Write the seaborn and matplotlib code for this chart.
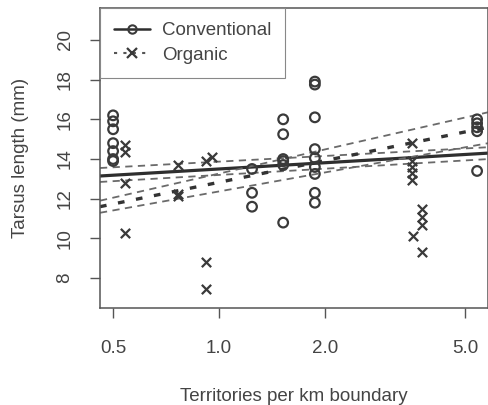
import numpy as np
import pandas as pd
import seaborn as sns
import matplotlib.pyplot as plt
from matplotlib.lines import Line2D

sns.set_style("white")
plt.rcParams['font.family'] = ['Liberation Sans', 'DejaVu Sans']

# Conventional (open circles)
conv_x = [0.5, 0.5, 0.5, 0.5, 0.5, 0.5, 0.5,
          1.24, 1.24, 1.24,
          1.52, 1.52, 1.52, 1.52, 1.52, 1.52,
          1.87, 1.87, 1.87, 1.87, 1.87, 1.87, 1.87, 1.87, 1.87,
          5.4, 5.4, 5.4, 5.4, 5.4]
conv_y = [16.2, 15.9, 15.5, 14.8, 14.4, 14.0, 13.9,
          13.5, 12.3, 11.6,
          16.0, 15.25, 14.0, 13.9, 13.7, 10.8,
          17.9, 17.75, 16.1, 14.5, 14.05, 13.6, 13.25, 12.3, 11.8,
          16.0, 15.8, 15.6, 15.4, 13.4]

# Organic (crosses)
org_x = [0.54, 0.54, 0.54, 0.54,
         0.765, 0.765, 0.765,
         0.92, 0.92, 0.92, 0.955,
         3.53, 3.53, 3.53, 3.53, 3.53,
         3.77, 3.77, 3.77, 3.77, 3.56]
org_y = [14.7, 14.35, 12.8, 10.3,
         13.7, 12.25, 12.15,
         13.9, 8.8, 7.45, 14.1,
         14.8, 13.9, 13.6, 13.3, 12.95,
         11.5, 11.1, 10.7, 9.3, 10.15]

# fitted lines: y = intercept + slope * log10(x)
line_names = ['conv_fit', 'conv_lo', 'conv_hi', 'org_fit', 'org_lo', 'org_hi']
intercepts = [13.50, 13.20, 13.87, 12.83, 12.37, 13.27]
slopes = [1.045, 1.045, 0.95, 3.63, 3.18, 4.04]

XLIM = (0.459, 5.8)
DARK = '#3a3a3a'

fig = plt.figure(figsize=(4.89, 4.05), dpi=100)
ax = fig.add_axes([0.2045, 0.2395, 0.7935, 0.7405])

xs = np.geomspace(XLIM[0], XLIM[1], 50)
styles = {
    'conv_fit': dict(color='#2e2e2e', lw=2.3, ls='-'),
    'conv_lo': dict(color='#6a6a6a', lw=1.3, ls=(0, (4, 3))),
    'conv_hi': dict(color='#6a6a6a', lw=1.3, ls=(0, (4, 3))),
    'org_fit': dict(color='#333333', lw=2.4, ls=(0, (2.0, 3.5))),
    'org_lo': dict(color='#6a6a6a', lw=1.3, ls=(0, (4, 3))),
    'org_hi': dict(color='#6a6a6a', lw=1.3, ls=(0, (4, 3))),
}
for name, a, b in zip(line_names, intercepts, slopes):
    df_line = pd.DataFrame({'x': xs, 'y': a + b * np.log10(xs)})
    st = styles[name]
    sns.lineplot(data=df_line, x='x', y='y', color=st['color'],
                 linewidth=st['lw'], linestyle=st['ls'], ax=ax)

sns.scatterplot(x=conv_x, y=conv_y, marker='o', s=48, facecolors='none',
                edgecolor=DARK, linewidth=1.6, ax=ax, zorder=3)
sns.scatterplot(x=org_x, y=org_y, marker='x', s=45, color=DARK,
                linewidth=1.6, ax=ax, zorder=3)

ax.set_xscale('log')
ax.set_xlim(*XLIM)
ax.set_ylim(6.5, 21.6)
ax.set_xticks([0.5, 1.0, 2.0, 5.0])
ax.set_xticklabels(['0.5', '1.0', '2.0', '5.0'])
ax.xaxis.set_minor_locator(plt.NullLocator())
ax.set_yticks([8, 10, 12, 14, 16, 18, 20])
ax.set_yticklabels(['8', '10', '12', '14', '16', '18', '20'],
                   rotation=90, va='center')

ax.tick_params(axis='both', which='major', direction='out', length=7,
               width=1, color='#555555', labelsize=13.5, labelcolor='#444444',
               left=True, bottom=True)
ax.tick_params(axis='x', pad=16)
ax.tick_params(axis='y', pad=12)

for sp in ax.spines.values():
    sp.set_color('#555555')
    sp.set_linewidth(1.1)

ax.set_xlabel('Territories per km boundary', fontsize=13.5, color='#444444',
              labelpad=22)
ax.set_ylabel('Tarsus length (mm)', fontsize=13.5, color='#444444',
              labelpad=20)

handles = [
    Line2D([], [], color='#2e2e2e', lw=1.8, ls='-', marker='o', markersize=6,
           markerfacecolor='none', markeredgecolor=DARK, markeredgewidth=1.5),
    Line2D([], [], color='#555555', lw=1.5, ls=(0, (1.5, 3)), marker='x',
           markersize=7, markeredgecolor=DARK, markeredgewidth=1.6),
]
leg = ax.legend(handles, ['Conventional', 'Organic'], loc='upper left',
                fontsize=13.5, frameon=True, fancybox=False, framealpha=1,
                edgecolor='#888888', borderaxespad=0, borderpad=0.75,
                handlelength=1.9, handletextpad=0.65, labelspacing=0.4)
leg.get_frame().set_linewidth(0.8)
for t in leg.get_texts():
    t.set_color('#444444')

fig.savefig('out.png', dpi=100)
